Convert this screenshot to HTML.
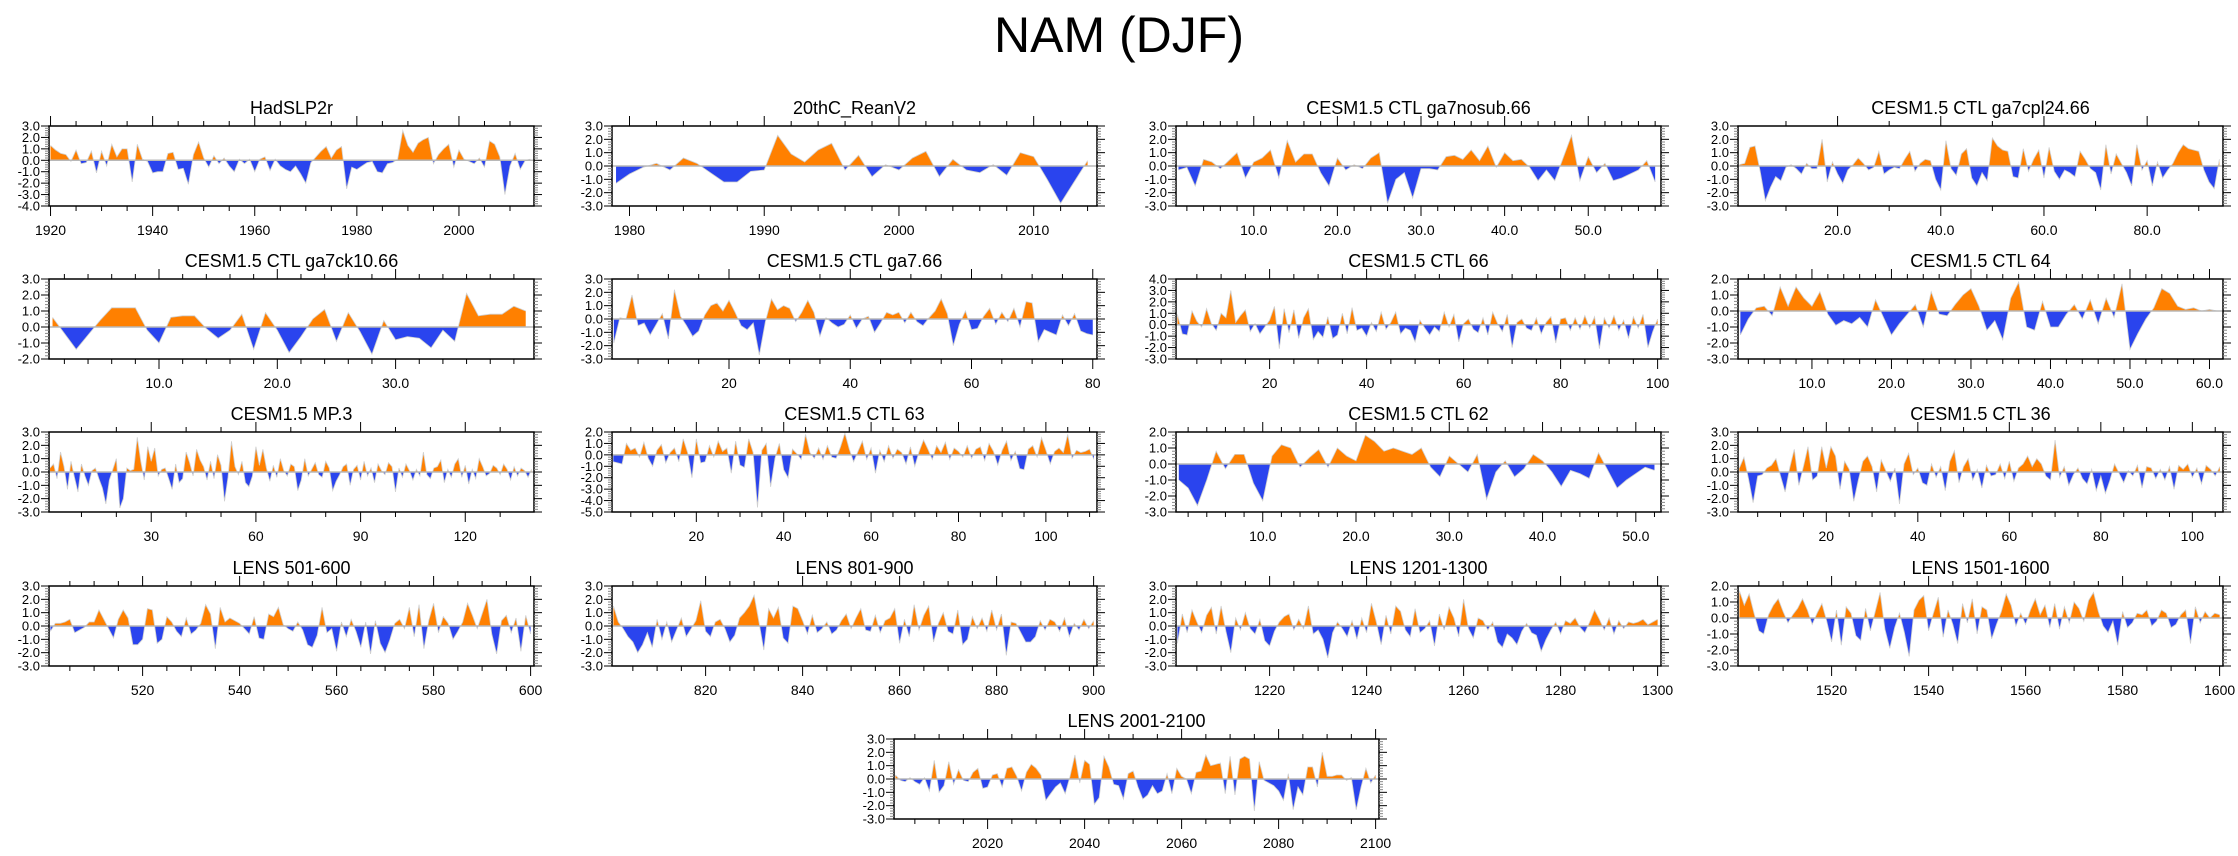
<!DOCTYPE html>
<html><head><meta charset="utf-8"><title>NAM (DJF)</title>
<style>
html,body{margin:0;padding:0;background:#fff;}
svg{display:block;font-family:"Liberation Sans",Arial,sans-serif;}
</style></head>
<body>
<svg id="chart" width="2238" height="856" viewBox="0 0 2238 856">
<text x="1119" y="52" text-anchor="middle" font-size="50" fill="#000">NAM (DJF)</text>
</svg>
<script>
const titles = ["HadSLP2r","20thC_ReanV2","CESM1.5 CTL ga7nosub.66","CESM1.5 CTL ga7cpl24.66",
"CESM1.5 CTL ga7ck10.66","CESM1.5 CTL ga7.66","CESM1.5 CTL 66","CESM1.5 CTL 64",
"CESM1.5 MP.3","CESM1.5 CTL 63","CESM1.5 CTL 62","CESM1.5 CTL 36",
"LENS 501-600","LENS 801-900","LENS 1201-1300","LENS 1501-1600","LENS 2001-2100"];
const xStarts = [1920,1979,1,1,1,1,1,1,1,1,1,1,501,801,1201,1501,2001];
const yMins = [-4,-3,-3,-3,-2,-3,-3,-3,-3,-5,-3,-3,-3,-3,-3,-3,-3];
const yMaxs = [3,3,3,3,3,3,4,2,3,2,2,3,3,3,3,2,3];
const xTickLabels = [
[1920,1940,1960,1980,2000],[1980,1990,2000,2010],[10,20,30,40,50],[20,40,60,80],
[10,20,30],[20,40,60,80],[20,40,60,80,100],[10,20,30,40,50,60],
[30,60,90,120],[20,40,60,80,100],[10,20,30,40,50],[20,40,60,80,100],
[520,540,560,580,600],[820,840,860,880,900],[1220,1240,1260,1280,1300],[1520,1540,1560,1580,1600],[2020,2040,2060,2080,2100]];
const xLabelDecimals = [0,0,1,1,1,0,0,1,0,0,1,0,0,0,0,0,0];
const xMinorSteps = [5,2,2,10,2,5,5,2,10,5,2,5,5,5,5,5,5];

const s0 = [1.3,0.9,0.6,0.5,-0.1,0.9,-0.3,-0.2,0.8,-1.1,0.8,-0.5,1.4,0.3,1.0,1.0,-1.9,1.4,0.1,-0.1,-1.1,-1.0,-1.0,0.6,0.7,-0.8,-0.7,-2.1,0.5,1.6,0.2,-0.6,0.4,-0.3,0.2,-0.5,-1.0,0.1,-0.3,0.1,-1.0,0.1,0.3,-0.9,0.1,-0.5,-0.8,-1.0,-0.5,-1.2,-2.0,-0.2,0.3,0.8,1.2,0.2,0.9,1.2,-2.5,-0.6,-0.8,-0.5,-0.2,-0.1,-1.0,-1.1,-0.3,-0.2,0.1,2.6,1.3,0.7,1.5,1.8,2.0,-0.3,0.5,1.0,1.4,-0.6,0.9,0.1,-0.1,-0.3,0.2,-0.6,1.7,1.4,0.3,-3.0,-0.5,0.6,-0.8,0.0,0.1];
const s1 = [-1.3,-0.6,-0.1,0.2,-0.3,0.6,0.2,-0.5,-1.2,-1.2,-0.4,-0.3,2.3,0.9,0.3,1.2,1.7,-0.3,0.8,-0.8,0.1,-0.3,0.6,1.1,-0.8,0.5,-0.3,-0.5,0.1,-0.7,1.0,0.7,-1.0,-2.8,-1.2,0.4];
const s2 = [-0.3,-0.1,-1.5,0.5,0.3,-0.2,0.4,1.0,-0.9,0.3,0.6,1.2,-0.9,1.9,0.3,0.9,0.9,-0.5,-1.5,0.6,-0.3,0.1,-0.2,0.6,1.0,-2.8,-1.0,-0.5,-2.4,-0.2,-0.2,-0.3,0.7,0.8,0.5,1.2,0.4,1.5,-0.1,1.0,0.4,0.5,-0.1,-1.1,-0.3,-1.1,0.6,2.3,-1.1,0.7,-0.5,0.2,-1.1,-0.9,-0.6,-0.3,0.4,-1.2];
const s3 = [0.1,0.2,1.4,1.5,-0.4,-2.6,-1.6,-0.8,-1.1,-0.1,0.1,-0.2,-0.6,0.2,-0.2,-0.2,2.0,-1.2,0.3,-0.6,-1.3,-0.3,0.1,0.6,0.2,-0.3,-0.1,1.1,-0.6,-0.3,-0.1,-0.2,0.5,1.1,-0.4,0.2,0.5,0.4,-1.0,-1.8,1.9,-0.2,-0.7,0.9,1.3,-0.9,-1.5,-0.5,-1.1,2.1,1.5,1.2,1.1,-0.8,-0.9,1.3,-0.4,0.5,1.2,-0.9,1.4,-0.4,-1.0,-0.3,-0.5,-0.8,1.1,0.5,-0.2,-0.5,-1.8,1.6,-0.6,0.9,0.2,-0.5,-1.5,1.6,-0.3,0.4,-1.5,0.3,-0.9,-0.3,0.2,1.0,1.6,1.3,1.2,1.1,-0.3,-1.2,-1.7,0.5];
const s4 = [0.6,-0.4,-1.4,-0.5,0.4,1.2,1.2,1.2,-0.2,-1.0,0.6,0.7,0.7,-0.1,-0.7,-0.2,0.8,-1.4,0.9,-0.2,-1.6,-0.6,0.5,1.1,-0.9,0.9,-0.3,-1.7,0.4,-0.8,-0.6,-0.7,-1.3,-0.2,-0.9,2.1,0.7,0.8,0.8,1.3,1.0];
const s5 = [-1.8,0.1,0.0,1.8,-0.5,-0.3,-1.2,-0.4,0.4,-1.5,2.2,0.2,-0.5,-1.3,-0.9,0.3,1.0,1.2,0.6,1.4,0.5,-0.5,-0.8,-0.3,-2.7,-0.2,1.5,0.7,1.0,0.8,-0.2,0.5,1.4,0.5,-1.3,0.1,-0.3,-0.6,-0.4,0.3,-0.7,0.0,0.2,-1.0,-0.3,0.5,0.3,0.5,-0.3,0.5,-0.2,-0.5,0.1,0.6,1.5,0.4,-2.0,-0.4,0.6,-0.8,-0.7,0.2,0.8,-0.4,0.5,-0.2,0.8,-0.6,1.3,1.2,-1.7,-0.8,-1.0,-1.2,0.3,-0.5,0.4,-0.9,-1.1,-1.2];
const s6 = [0.9,-0.8,-0.9,1.2,0.3,-0.2,1.4,0.1,-0.5,1.0,0.6,3.0,0.2,0.8,1.3,-0.6,0.1,-0.8,-0.2,0.4,1.6,-2.1,1.4,-0.7,1.3,-1.2,0.6,1.4,-1.3,-0.6,-1.1,0.7,-1.2,-0.9,1.0,-0.8,1.5,-0.5,-0.3,-1.0,0.2,-0.6,1.1,-0.4,0.2,1.1,-0.8,-0.3,-0.5,-1.5,0.4,-0.3,-0.9,-0.2,-0.6,1.1,-0.2,0.9,-1.5,0.1,0.5,-0.4,-0.7,0.6,-0.9,1.1,0.1,-0.6,0.9,-2.0,0.2,0.5,-0.3,-0.5,0.6,-0.8,0.2,0.7,-1.6,0.5,0.6,-0.5,0.6,-0.4,0.8,-0.3,0.7,-2.1,0.6,-0.3,0.8,-0.5,0.4,-1.2,0.7,-0.3,0.9,-2.0,-0.6,0.5];
const s7 = [-1.5,-0.5,0.2,0.3,-0.3,1.5,0.3,1.5,0.8,0.3,1.2,-0.2,-0.9,-0.6,-0.8,-0.4,-1.0,0.7,-0.4,-1.5,-0.8,-0.2,0.4,-1.0,1.2,-0.2,-0.3,0.4,1.0,1.4,0.3,-1.2,-0.6,-1.8,0.8,1.8,-1.0,-1.2,0.6,-1.0,-1.0,-0.2,0.4,-0.5,0.7,-0.8,0.8,-0.4,1.7,-2.4,-1.4,-0.5,0.2,1.4,1.1,0.3,0.1,0.2,0.0,0.1,0.0];
const s8 = [0.3,0.6,-0.5,1.5,0.4,-1.3,0.8,-0.4,-1.5,0.6,-0.3,-1.0,0.1,0.3,-0.5,-1.2,-2.4,-0.6,0.2,1.0,-2.7,-2.0,0.3,0.1,0.2,2.6,0.8,-0.6,1.9,0.8,1.8,-0.3,0.2,0.3,-0.5,-1.3,0.6,-0.8,-0.5,1.5,0.7,-0.3,1.7,0.9,0.4,-0.6,0.8,-0.5,1.3,0.5,-2.2,-0.4,2.3,0.4,-0.2,0.8,-0.8,-1.1,-0.3,1.9,0.5,1.7,0.3,-0.7,0.5,-0.4,1.0,0.1,-0.3,0.6,0.4,-1.4,-0.6,1.0,-0.3,0.2,0.7,-0.2,-0.4,0.8,0.3,-1.4,-0.7,-0.2,0.4,0.6,-1.0,0.2,0.5,-0.6,0.8,-0.3,0.3,-0.8,0.6,0.1,-0.2,0.7,0.4,-1.5,0.3,-0.4,0.6,0.1,-0.6,0.2,-0.3,1.5,-0.2,-0.5,0.3,0.4,0.9,-0.8,0.2,-0.4,0.6,1.0,-0.4,0.5,-0.9,0.2,-0.5,1.0,0.4,-0.3,-0.1,0.5,0.3,-0.2,0.6,0.2,-0.6,0.4,-0.3,0.3,0.1,-0.4,0.2];
const s9 = [-0.6,-0.7,-0.8,1.0,0.4,0.6,-0.2,1.1,-0.3,-1.0,0.4,0.9,-0.7,0.2,0.6,-0.6,1.4,0.2,-2.0,1.4,-0.7,-0.6,0.8,-0.2,1.2,0.3,0.6,-1.6,1.2,-0.9,-1.1,1.4,0.2,-4.6,0.4,1.0,-2.8,-0.3,1.0,-1.3,-2.0,0.5,0.1,-0.4,1.8,0.2,-0.3,0.6,-0.4,0.8,-0.2,-0.3,0.7,1.9,0.5,-0.6,0.3,1.2,-0.4,0.6,-1.6,0.4,-0.6,0.8,-0.3,0.5,0.2,-0.8,0.7,-1.0,0.3,1.3,0.5,-0.4,0.8,0.2,1.1,-0.4,0.6,0.3,-0.2,0.8,-0.3,0.5,0.7,-0.5,1.0,0.3,-0.9,0.4,1.2,-0.5,0.3,-1.2,-1.3,0.5,0.8,-0.2,1.5,0.4,-0.8,0.3,0.6,0.2,1.8,-0.3,0.4,0.2,0.3,0.5,-0.4];
const s10 = [-1.0,-1.5,-2.6,-1.0,0.8,-0.3,0.6,0.6,-1.2,-2.3,0.5,1.2,1.0,-0.2,0.4,0.9,-0.2,1.0,0.5,0.2,1.8,1.4,0.8,1.0,0.8,0.6,1.0,-0.2,-0.8,0.5,0.0,-0.5,0.6,-2.2,-0.5,0.2,-0.8,-0.3,0.6,0.2,-0.5,-1.4,-0.4,-0.6,-0.9,0.7,-0.4,-1.5,-1.0,-0.6,-0.2,-0.4];
const s11 = [0.3,1.1,-0.5,-2.3,-0.3,-0.2,0.3,0.5,1.0,-0.3,-1.5,0.3,1.7,-1.0,0.4,1.9,-0.6,-0.3,1.9,0.3,1.9,1.2,-1.3,0.8,0.2,-2.2,-0.6,0.8,1.2,0.4,-1.5,0.9,0.1,-0.7,0.3,-2.4,0.6,1.4,-0.2,0.3,-0.8,-1.0,0.6,-0.4,0.4,-1.4,0.8,1.6,-0.8,0.4,1.0,-0.6,0.2,-1.2,0.5,-0.3,-0.2,0.6,-0.5,0.8,-0.7,0.3,0.6,1.2,0.4,1.0,0.6,-0.3,-0.6,2.4,-0.4,0.4,-1.0,-0.2,0.3,-0.5,-0.9,0.2,-1.4,-0.3,-1.6,-0.6,0.6,-0.1,-0.8,0.1,-0.3,0.5,-1.2,0.4,0.3,-0.5,0.2,-0.6,0.4,-1.3,0.5,0.2,0.6,-0.4,0.3,-0.9,0.5,0.2,-0.3,0.4];
const s12 = [-0.4,0.2,0.2,0.3,0.5,-0.5,-0.3,-0.1,0.3,0.3,1.2,0.5,-0.2,-0.9,0.5,1.2,0.6,-1.4,-1.4,-1.0,1.3,1.2,-1.3,-1.0,0.7,0.3,-0.4,-0.8,0.6,-0.6,-0.3,0.2,1.6,0.9,-1.7,1.4,0.3,0.6,0.4,0.2,-0.2,-0.6,0.7,-0.9,-1.0,0.9,0.7,1.4,0.1,-0.2,-0.4,0.3,-0.3,-1.4,-1.6,-0.7,1.4,-0.5,-0.2,-1.9,0.3,-0.8,0.5,-0.4,-1.6,0.3,-2.1,0.4,-1.3,-2.0,-1.0,0.2,0.5,-0.2,1.4,-0.8,1.6,-1.7,0.4,1.7,-0.5,0.7,0.2,-1.0,-0.4,0.3,1.7,0.8,-0.2,0.9,2.0,-0.6,-2.1,0.4,0.8,-0.5,0.6,-1.9,0.8,-0.6];
const s13 = [1.5,0.3,-0.2,-0.8,-1.2,-2.0,-1.4,-0.5,-1.6,0.5,-1.0,0.3,-1.2,-0.3,0.6,-0.8,-0.2,0.4,1.9,-0.4,-0.8,0.3,0.5,-0.2,-1.2,-0.7,0.6,1.0,1.5,2.3,0.3,-1.8,1.3,0.6,1.4,-0.9,-1.3,1.5,1.3,0.4,-0.6,0.8,-0.5,-0.2,0.3,-0.6,-0.3,0.4,0.9,-0.2,0.6,1.3,-0.3,-0.4,0.8,-0.5,0.4,0.6,1.3,-1.3,0.5,-0.8,1.6,-0.3,0.8,1.5,-1.2,0.2,1.0,-0.4,-0.6,1.2,-1.4,-1.0,0.7,-0.2,0.6,-0.4,1.2,-0.3,0.9,-2.2,0.3,0.2,-0.5,-1.2,-1.2,-0.8,0.4,-0.3,0.5,0.3,-0.4,0.6,-0.8,0.2,-0.3,0.5,-0.2,0.4];
const s14 = [-1.3,0.9,-0.5,1.2,0.3,-0.5,0.8,1.4,-0.6,1.5,-0.4,-2.0,0.6,-0.3,1.0,-0.2,-0.6,0.5,-1.1,-1.5,-0.4,0.3,0.7,0.9,-0.3,0.5,-0.2,1.5,-0.6,-0.3,-1.0,-2.4,-0.5,0.3,-0.2,-0.8,0.4,-1.0,0.6,-0.5,1.7,0.3,-1.4,0.8,-0.6,1.5,1.1,-0.3,-0.8,1.3,-0.5,-0.2,0.4,-1.5,0.9,-0.3,1.4,0.6,-0.8,2.0,-0.2,-0.9,0.6,0.4,-0.3,0.3,-1.2,-1.6,-0.6,-0.9,-1.4,-0.4,0.2,-0.5,-0.7,-1.9,-1.0,-0.3,0.3,-0.6,0.4,0.2,0.6,-0.1,-0.5,0.3,1.2,0.5,-0.3,0.6,-0.6,0.4,-0.2,0.3,0.2,0.3,0.5,0.1,0.3,0.5];
const s15 = [1.7,0.8,1.5,0.3,-0.8,-1.0,0.2,0.8,1.2,0.4,-0.3,0.2,0.6,1.2,0.5,-0.4,0.3,0.9,-0.2,-1.5,0.5,-1.7,0.7,0.3,-1.1,-1.4,0.6,-0.8,0.4,1.6,-0.7,-1.9,-0.6,0.3,-0.9,-2.4,0.5,1.1,1.4,-0.8,0.3,1.3,-1.2,0.5,-0.4,-1.6,0.9,-0.3,1.2,-1.0,0.7,0.5,-1.3,-0.4,0.4,1.5,0.8,-0.5,0.3,-0.4,0.5,1.2,0.2,0.8,-0.6,0.9,-0.7,0.7,-0.3,1.0,0.6,-0.2,1.1,1.6,0.4,-0.5,-0.9,-0.2,-1.7,0.4,-0.6,-0.3,0.3,0.2,0.5,-0.5,-0.2,0.5,0.3,-0.6,-0.4,0.2,0.5,-1.6,0.7,-0.3,0.4,0.0,0.3,0.2];
const s16 = [0.3,-0.1,-0.2,0.1,-0.2,-0.4,0.1,-0.9,1.4,-1.0,-0.5,1.3,-0.4,0.7,-0.1,-0.2,0.5,0.8,-0.7,-0.6,0.3,0.4,-0.6,0.8,0.9,0.2,-0.9,0.5,1.1,0.8,0.3,-1.6,-1.1,-0.6,-0.3,-1.1,0.2,1.8,-0.3,1.4,1.1,-1.9,-1.4,1.7,0.9,-0.4,-0.5,-1.5,0.4,0.6,-0.6,-1.5,-1.2,-0.5,-1.1,-0.9,0.4,-1.1,0.8,0.2,0.0,-1.1,0.5,0.6,1.8,1.0,1.1,1.2,-1.1,1.7,-1.2,1.5,1.7,1.5,-2.4,1.3,-0.1,-0.3,-0.5,-0.9,-1.6,0.4,-2.3,-0.6,-1.2,0.9,0.9,-0.6,2.0,0.2,0.2,0.3,0.3,-0.1,0.1,-2.3,-0.6,0.8,-0.3,0.3];
const series = [s0,s1,s2,s3,s4,s5,s6,s7,s8,s9,s10,s11,s12,s13,s14,s15,s16];

const NS = "http://www.w3.org/2000/svg";
const svg = document.getElementById("chart");
const rowTops = [126,279,432,586,739];
const colLefts = [49,612,1176,1738];
const PW = 485, PH = 80;
function mk(tag, attrs, parent){ const e=document.createElementNS(NS,tag); for(const k in attrs) e.setAttribute(k,attrs[k]); (parent||svg).appendChild(e); return e; }

for (let p=0;p<17;p++){
  const left = p<16 ? colLefts[p%4] : 894;
  const top = rowTops[Math.floor(p/4)];
  const vals = series[p];
  const x0 = xStarts[p], x1 = xStarts[p]+vals.length-1;
  const xmin = x0-0.3, xmax = x1+0.7;
  const ymin = yMins[p], ymax = yMaxs[p];
  const X = v => left + (v-xmin)/(xmax-xmin)*PW;
  const Y = v => top + (ymax-v)/(ymax-ymin)*PH;
  const g = mk("g",{});
  
  
  const id = "c"+p;
  const defs = mk("defs",{},g);
  const ca = mk("clipPath",{id:id+"a"},defs); mk("rect",{x:left,y:top,width:PW,height:Y(0)-top},ca);
  const cb = mk("clipPath",{id:id+"b"},defs); mk("rect",{x:left,y:Y(0),width:PW,height:top+PH-Y(0)},cb);
  let d = "M"+X(x0)+","+Y(0);
  vals.forEach((v,i)=>{ d += " L"+X(x0+i).toFixed(2)+","+Y(v).toFixed(2); });
  d += " L"+X(x1)+","+Y(0)+" Z";
  const pos = mk("path",{d:d,fill:"#ff8000","clip-path":"url(#"+id+"a)"},g);
  
  
  const neg = mk("path",{d:d,fill:"#2a44ee","clip-path":"url(#"+id+"b)"},g);
  
  
  let ld = "";
  vals.forEach((v,i)=>{ ld += (i?" L":"M")+X(x0+i).toFixed(2)+","+Y(v).toFixed(2); });
  mk("path",{d:ld,fill:"none",stroke:"#cfcfcf","stroke-width":0.8},g);
  const zl = mk("line",{x1:left,x2:left+PW,y1:Y(0),y2:Y(0),stroke:"#b8b8b8","stroke-width":1.5},g);
  
  
  const box = mk("rect",{x:left,y:top,width:PW,height:PH,fill:"none",stroke:"#000","stroke-width":1.5},g);
  
  
  // y ticks
  for (let v=ymin; v<=ymax+1e-6; v+=0.2){
    const major = Math.abs(v-Math.round(v))<1e-6;
    const y = Y(v), L = major?8:4, col = major?"#000":"#888";
    mk("line",{x1:left-L,x2:left,y1:y,y2:y,stroke:col,"stroke-width":1},g);
    mk("line",{x1:left+PW,x2:left+PW+L,y1:y,y2:y,stroke:col,"stroke-width":1},g);
    if (major){
      const t = mk("text",{x:left-9,y:y+4.5,"text-anchor":"end","font-size":13},g);
      t.textContent = Math.round(v).toFixed(1);
      
      
    }
  }
  // x ticks
  const ms = xMinorSteps[p];
  const firstMinor = Math.ceil(xmin/ms)*ms;
  for (let v=firstMinor; v<=xmax+1e-6; v+=ms){
    const x = X(v);
    const major = xTickLabels[p].some(t=>Math.abs(t-v)<1e-6);
    const L = major?10:5;
    mk("line",{x1:x,x2:x,y1:top-L,y2:top,stroke:"#000","stroke-width":1},g);
    mk("line",{x1:x,x2:x,y1:top+PH,y2:top+PH+L,stroke:"#000","stroke-width":1},g);
  }
  xTickLabels[p].forEach(t=>{
    if (t<xmin || t>xmax) return;
    const tx = mk("text",{x:X(t),y:top+PH+29,"text-anchor":"middle","font-size":14},g);
    tx.textContent = t.toFixed(xLabelDecimals[p]);
    
    
  });
  const ti = mk("text",{x:left+PW/2,y:top-12,"text-anchor":"middle","font-size":18},g);
  ti.textContent = titles[p];
  
  
}
</script>
</body></html>
